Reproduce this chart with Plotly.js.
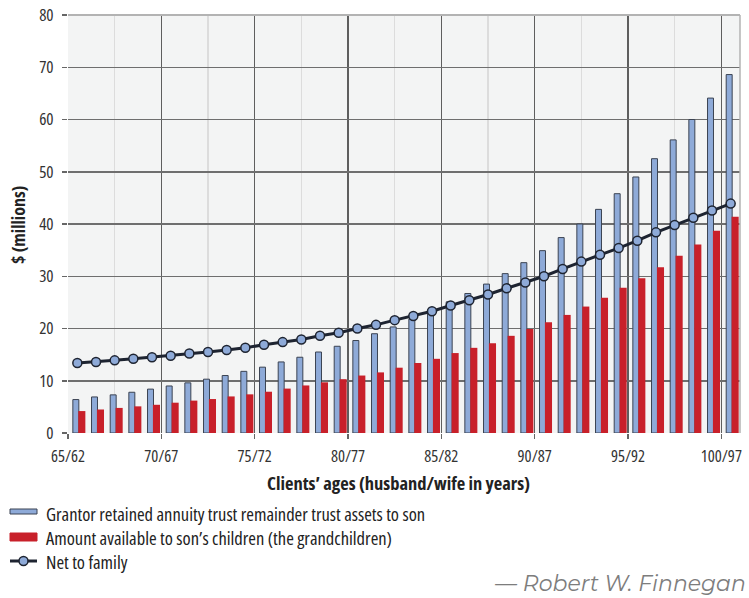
<!DOCTYPE html>
<html>
<head>
<meta charset="utf-8">
<script src="https://cdn.plot.ly/plotly-3.0.1.min.js"></script>
<style>html,body{margin:0;padding:0;background:#fff;}#chart{width:749px;height:598px;}
text{font-stretch:condensed;}
</style>
</head>
<body>
<div id="chart"></div>
<script>
// Husband ages 65..100, wife ages 62..97
const husbandAges = [65,66,67,68,69,70,71,72,73,74,75,76,77,78,79,80,81,82,83,84,85,86,87,88,89,90,91,92,93,94,95,96,97,98,99,100];
const wifeAges    = [62,63,64,65,66,67,68,69,70,71,72,73,74,75,76,77,78,79,80,81,82,83,84,85,86,87,88,89,90,91,92,93,94,95,96,97];
const categories = husbandAges.map((h, i) => h + '/' + wifeAges[i]);

const gratToSon = [6.4, 6.9, 7.3, 7.8, 8.4, 9.0, 9.6, 10.3, 11.0, 11.8, 12.6, 13.6, 14.5, 15.5, 16.6, 17.7, 19.0, 20.3, 21.8, 23.4, 25.1, 26.7, 28.5, 30.5, 32.6, 34.9, 37.4, 40.0, 42.8, 45.8, 49.0, 52.5, 56.1, 60.0, 64.1, 68.6];
const toGrandchildren = [4.2, 4.5, 4.8, 5.1, 5.4, 5.8, 6.2, 6.5, 7.0, 7.4, 7.9, 8.5, 9.1, 9.7, 10.3, 11.0, 11.6, 12.5, 13.4, 14.2, 15.3, 16.3, 17.2, 18.6, 19.9, 21.2, 22.6, 24.2, 25.9, 27.8, 29.6, 31.7, 33.9, 36.1, 38.7, 41.4];
const netToFamily = [13.4, 13.6, 13.9, 14.2, 14.5, 14.8, 15.2, 15.5, 15.9, 16.3, 16.9, 17.4, 17.9, 18.6, 19.2, 20.0, 20.7, 21.6, 22.4, 23.3, 24.4, 25.4, 26.5, 27.7, 28.8, 30.0, 31.4, 32.8, 34.1, 35.4, 36.8, 38.4, 39.8, 41.2, 42.6, 43.9];

const legendLabels = [
  'Grantor retained annuity trust remainder trust assets to son',
  'Amount available to son\u2019s children (the grandchildren)',
  'Net to family'
];
const yTicks = [0,10,20,30,40,50,60,70,80];
const tickEvery = 5;

const BLUE = '#8eaad8', BLUE_EDGE = '#3b4352', RED = '#c8202a', LINE = '#1e2431';
const FONT = '"Open Sans", sans-serif';

const xs = categories.map((c, i) => i + 0.5);
const tickIdx = categories.map((c, i) => i).filter(i => i % tickEvery === 0);
const minorIdx = tickIdx.filter(i => i + 2.5 < categories.length).map(i => i + 2.5);

const traces = [
  {type:'bar', x: xs, y: gratToSon, width: 0.32, offset: -0.24,
   marker:{color: BLUE, line:{color: BLUE_EDGE, width: 1}}, showlegend:false, hoverinfo:'none'},
  {type:'bar', x: xs, y: toGrandchildren, width: 0.38, offset: 0.05,
   marker:{color: RED, line:{width: 0}}, showlegend:false, hoverinfo:'none'},
  {type:'scatter', mode:'lines+markers', x: xs, y: netToFamily,
   line:{color: LINE, width: 3},
   marker:{size: 9, color: BLUE, line:{color: LINE, width: 1.5}}, showlegend:false, hoverinfo:'none'}
];

// paper coordinate helpers (plot area: x 68..740, y 15..433)
const L = 68, R = 9, T = 15, B = 165, W = 749, H = 598;
const pw = W - L - R, ph = H - T - B;
const px = v => (v - L) / pw;
const py = v => (H - B - v) / ph;

const shapes = [
  {type:'line', xref:'paper', yref:'paper', x0:0, x1:1, y0:1, y1:1, line:{color:'#b3b3b3', width:2}},
  {type:'line', xref:'paper', yref:'paper', x0:1, x1:1, y0:0, y1:1, line:{color:'#b3b3b3', width:1.5}},
  {type:'rect', xref:'paper', yref:'paper', x0:px(10), x1:px(37), y0:py(509), y1:py(514), fillcolor: BLUE, line:{color: BLUE_EDGE, width:1}},
  {type:'rect', xref:'paper', yref:'paper', x0:px(10), x1:px(37), y0:py(533), y1:py(541), fillcolor: RED, line:{color: RED, width:1}},
  {type:'line', xref:'paper', yref:'paper', x0:px(10), x1:px(37), y0:py(561), y1:py(561), line:{color: LINE, width:3}},
  {type:'circle', xref:'paper', yref:'paper', x0:px(19), x1:px(28), y0:py(565.5), y1:py(556.5), fillcolor: BLUE, line:{color: LINE, width:1.5}}
];

const legendFont = {family: FONT, size:18.5, color:'#222'};
const annotations = [
  {xref:'paper', yref:'paper', x:px(44), y:py(513), xanchor:'left', yanchor:'middle', showarrow:false, text: legendLabels[0], font: legendFont},
  {xref:'paper', yref:'paper', x:px(44), y:py(537), xanchor:'left', yanchor:'middle', showarrow:false, text: legendLabels[1], font: legendFont},
  {xref:'paper', yref:'paper', x:px(44), y:py(561), xanchor:'left', yanchor:'middle', showarrow:false, text: legendLabels[2], font: legendFont},
  {xref:'paper', yref:'paper', x:px(18), y:py(225), xanchor:'center', yanchor:'middle', showarrow:false, textangle:-90,
   text:'<b>$ (millions)</b>', font:{family: FONT, size:18, color:'#222'}},
  {xref:'paper', yref:'paper', x:px(398), y:py(482), xanchor:'center', yanchor:'middle', showarrow:false,
   text:'<b>Clients\u2019 ages (husband/wife in years)</b>', font:{family: FONT, size:18.5, color:'#222'}},
  {xref:'paper', yref:'paper', x:px(748), y:py(583), xanchor:'right', yanchor:'middle', showarrow:false,
   text:'<i>\u2014 Robert W. Finnegan</i>', font:{family:'Montserrat, sans-serif', size:22, color:'#7d7d7d'}}
];

const layout = {
  width: W, height: H,
  margin:{l:L, r:R, t:T, b:B, pad:0},
  paper_bgcolor:'#ffffff', plot_bgcolor:'#f3f4f4',
  barmode:'overlay',
  showlegend:false,
  xaxis:{
    range:[0, categories.length], tickmode:'array',
    tickvals: tickIdx, ticktext: tickIdx.map(i => categories[i]),
    showgrid:true, gridcolor:'#5e5e5e', gridwidth:1.5,
    ticks:'outside', ticklen:5, tickcolor:'#666', tickwidth:1.5,
    ticklabelstandoff: 3,
    tickfont:{family: FONT, size:16.5, color:'#333'},
    zeroline:false, showline:false, fixedrange:true,
    minor:{tickmode:'array', tickvals: minorIdx, showgrid:true, gridcolor:'#dcdcdc', gridwidth:1.5, ticks:''}
  },
  yaxis:{
    range:[0, 80], tickmode:'array', tickvals: yTicks,
    showgrid:true, gridcolor:'#6e6e6e', gridwidth:1.5,
    ticks:'outside', ticklen:5, tickcolor:'#666', tickwidth:1.5,
    ticklabelstandoff: 5,
    tickfont:{family: FONT, size:17, color:'#333'},
    zeroline:false, showline:false, fixedrange:true
  },
  shapes: shapes,
  annotations: annotations
};

Plotly.newPlot('chart', traces, layout, {staticPlot:true, displayModeBar:false});
</script>
</body>
</html>
